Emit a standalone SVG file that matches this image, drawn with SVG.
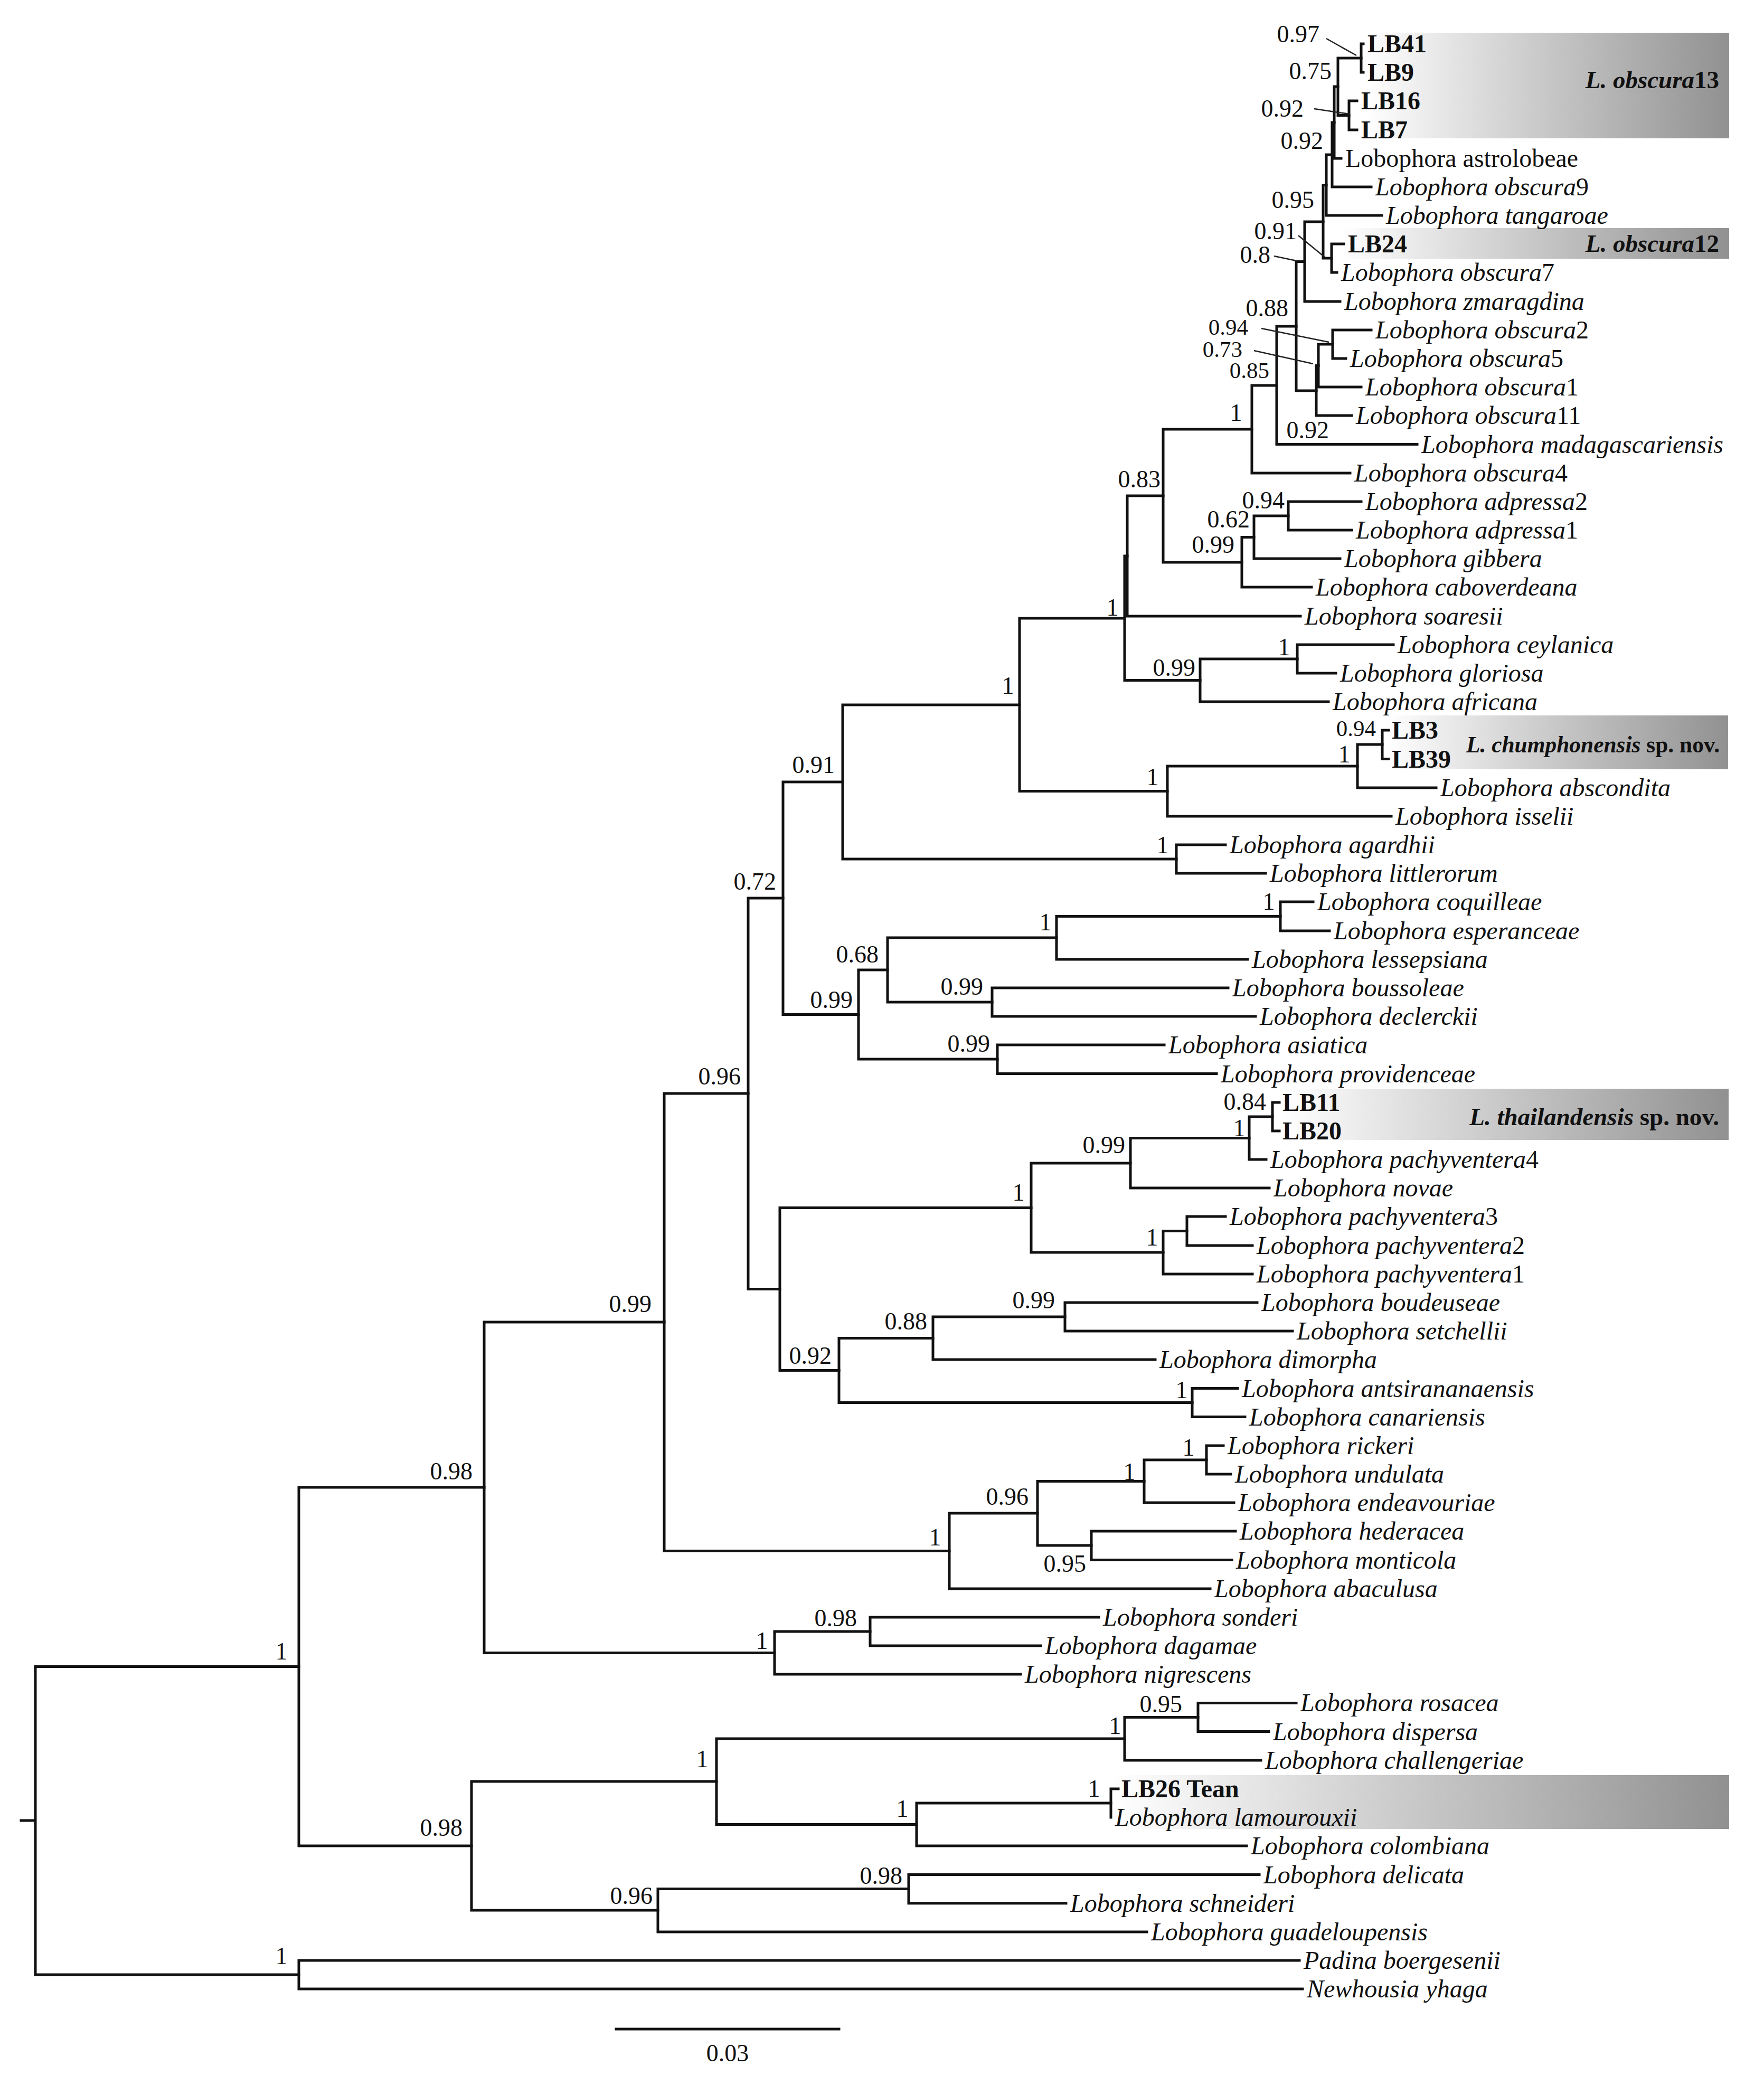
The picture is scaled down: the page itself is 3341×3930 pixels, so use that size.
<svg xmlns="http://www.w3.org/2000/svg" width="3341" height="3930" viewBox="0 0 3341 3930">
<defs>
<linearGradient id="hl" x1="0" y1="0" x2="1" y2="0">
<stop offset="0" stop-color="#ffffff"/>
<stop offset="0.4" stop-color="#d2d2d2"/>
<stop offset="1" stop-color="#919191"/>
</linearGradient>
<style>
text{font-family:"Liberation Serif","Times New Roman",serif;fill:#111}
.t{font-size:48px;font-style:italic}
.r{font-size:48px}
.b{font-size:48px;font-weight:bold}
.d{font-style:normal}
.s{font-size:46px;text-anchor:end}
.ss{font-size:43px;text-anchor:end}
.s1{font-size:46px;text-anchor:middle}
.h{font-size:47px;font-weight:bold;text-anchor:end}
.h2{font-size:45px;font-weight:bold}
.br{stroke:#111;stroke-width:5;fill:none;stroke-linecap:square}
.ld{stroke:#222;stroke-width:2.5;fill:none}
.box{fill:url(#hl)}
</style>
</defs>
<rect width="3341" height="3930" fill="#fff"/>
<g id="highlights">
<g id="hl-obscura13"><rect class="box" x="2585" y="62" width="690" height="200"/><text class="h" x="3256" y="167"><tspan font-style="italic">L. obscura</tspan>13</text></g>
<g id="hl-obscura12"><rect class="box" x="2540" y="432" width="735" height="58"/><text class="h" x="3256" y="477"><tspan font-style="italic">L. obscura</tspan>12</text></g>
<g id="hl-chumphonensis"><rect class="box" x="2625" y="1355" width="648" height="102"/><text class="h2" x="2777" y="1425" textLength="480" lengthAdjust="spacingAndGlyphs"><tspan font-style="italic">L. chumphonensis</tspan> sp. nov.</text></g>
<g id="hl-thailandensis"><rect class="box" x="2429" y="2062" width="845" height="97"/><text class="h" x="3256" y="2131"><tspan font-style="italic">L. thailandensis</tspan> sp. nov.</text></g>
<g id="hl-lamourouxii"><rect class="box" x="2110" y="3362" width="1165" height="102"/></g>
</g>
<g id="branches" class="br">
<path d="M2578,83V137M2578,83H2582M2578,137H2582"/>
<path d="M2555,191V246M2555,191H2570M2555,246H2570"/>
<path d="M2534,110V218.5M2534,110H2578M2534,218.5H2555"/>
<path d="M2527,164V300M2527,164H2534M2527,300H2540"/>
<path d="M2523,232V354M2523,232H2527M2523,354H2597"/>
<path d="M2512,293V408M2512,293H2523M2512,408H2617"/>
<path d="M2522,462V516M2522,462H2545M2522,516H2532"/>
<path d="M2506,350.5V489M2506,350.5H2512M2506,489H2522"/>
<path d="M2471,420V571M2471,420H2506M2471,571H2538"/>
<path d="M2524,625V679M2524,625H2597M2524,679H2549"/>
<path d="M2497,652V733M2497,652H2524M2497,733H2578"/>
<path d="M2493,692.5V787M2493,692.5H2497M2493,787H2560"/>
<path d="M2455,495.5V740M2455,495.5H2471M2455,740H2493"/>
<path d="M2418,618V841.5M2418,618H2455M2418,841.5H2684"/>
<path d="M2371,730V896M2371,730H2418M2371,896H2557"/>
<path d="M2440,950V1004M2440,950H2578M2440,1004H2560"/>
<path d="M2375,977V1058M2375,977H2440M2375,1058H2538"/>
<path d="M2352,1017.5V1112M2352,1017.5H2375M2352,1112H2484"/>
<path d="M2203,813V1065M2203,813H2371M2203,1065H2352"/>
<path d="M2135,939V1167M2135,939H2203M2135,1167H2463"/>
<path d="M2457,1221V1275M2457,1221H2639M2457,1275H2530"/>
<path d="M2273,1248V1329M2273,1248H2457M2273,1329H2516"/>
<path d="M2130,1053V1288.5M2130,1053H2135M2130,1288.5H2273"/>
<path d="M2618,1383V1437.5M2618,1383H2630M2618,1437.5H2630"/>
<path d="M2571,1410V1492M2571,1410H2618M2571,1492H2720"/>
<path d="M2211,1451V1546M2211,1451H2571M2211,1546H2635"/>
<path d="M1931,1171V1498.5M1931,1171H2130M1931,1498.5H2211"/>
<path d="M2228,1600V1654M2228,1600H2321M2228,1654H2397"/>
<path d="M1596,1335V1627M1596,1335H1931M1596,1627H2228"/>
<path d="M2425,1708V1763M2425,1708H2487M2425,1763H2518"/>
<path d="M2001,1735.5V1817M2001,1735.5H2425M2001,1817H2363"/>
<path d="M1879,1871V1925M1879,1871H2326M1879,1925H2378"/>
<path d="M1681,1776V1898M1681,1776H2001M1681,1898H1879"/>
<path d="M1889,1979V2033.5M1889,1979H2205M1889,2033.5H2304"/>
<path d="M1626,1837V2006M1626,1837H1681M1626,2006H1889"/>
<path d="M1483,1481V1921.5M1483,1481H1596M1483,1921.5H1626"/>
<path d="M2410,2088V2142M2410,2088H2423M2410,2142H2423"/>
<path d="M2366,2115V2196M2366,2115H2410M2366,2196H2398"/>
<path d="M2141,2155.5V2250M2141,2155.5H2366M2141,2250H2404"/>
<path d="M2248,2304V2359M2248,2304H2321M2248,2359H2372"/>
<path d="M2203,2331.5V2413M2203,2331.5H2248M2203,2413H2372"/>
<path d="M1953,2203V2372M1953,2203H2141M1953,2372H2203"/>
<path d="M2017,2467V2521M2017,2467H2381M2017,2521H2448"/>
<path d="M1767,2494V2575M1767,2494H2017M1767,2575H2188"/>
<path d="M2258,2629.5V2683.6M2258,2629.5H2344M2258,2683.6H2358"/>
<path d="M1589,2534.5V2656.5M1589,2534.5H1767M1589,2656.5H2258"/>
<path d="M1477,2287.5V2595.5M1477,2287.5H1953M1477,2595.5H1589"/>
<path d="M1417,1701V2441.5M1417,1701H1483M1417,2441.5H1477"/>
<path d="M2285,2738V2792M2285,2738H2317M2285,2792H2331"/>
<path d="M2167,2765V2846M2167,2765H2285M2167,2846H2337"/>
<path d="M2067,2900V2954.5M2067,2900H2340M2067,2954.5H2333"/>
<path d="M1965,2805.5V2927M1965,2805.5H2167M1965,2927H2067"/>
<path d="M1798,2866V3009M1798,2866H1965M1798,3009H2292"/>
<path d="M1258,2071V2937.5M1258,2071H1417M1258,2937.5H1798"/>
<path d="M1648,3063V3117M1648,3063H2081M1648,3117H1971"/>
<path d="M1467,3090V3171M1467,3090H1648M1467,3171H1933"/>
<path d="M917,2504V3130.5M917,2504H1258M917,3130.5H1467"/>
<path d="M2269,3225.5V3279.6M2269,3225.5H2455M2269,3279.6H2403"/>
<path d="M2130,3252.5V3334M2130,3252.5H2269M2130,3334H2388"/>
<path d="M2104,3388V3442M2104,3388H2118"/>
<path d="M1736,3415V3496M1736,3415H2104M1736,3496H2361"/>
<path d="M1357,3293V3455.5M1357,3293H2130M1357,3455.5H1736"/>
<path d="M1721,3550.5V3604.7M1721,3550.5H2385M1721,3604.7H2019"/>
<path d="M1246,3577.6V3659M1246,3577.6H1721M1246,3659H2172"/>
<path d="M893,3374V3618M893,3374H1357M893,3618H1246"/>
<path d="M566,2817V3496M566,2817H917M566,3496H893"/>
<path d="M566,3713V3767M566,3713H2461M566,3767H2467"/>
<path d="M67,3156.5V3740M67,3156.5H566M67,3740H566M40,3448H67"/>
</g>
<g id="leaders" class="ld">
<path d="M2512,73L2569,105"/>
<path d="M2489,206L2556,216"/>
<path d="M2459,446L2509,487"/>
<path d="M2413,485L2456,494"/>
<path d="M2389,622L2517,648"/>
<path d="M2375,664L2487,689"/>
</g>
<g id="tips">
<g id="tip-LB41"><text class="b" x="2590" y="99">LB41</text></g>
<g id="tip-LB9"><text class="b" x="2590" y="153">LB9</text></g>
<g id="tip-LB16"><text class="b" x="2578" y="207">LB16</text></g>
<g id="tip-LB7"><text class="b" x="2578" y="262">LB7</text></g>
<g id="tip-astrolobeae"><text class="r" x="2548" y="316">Lobophora astrolobeae</text></g>
<g id="tip-obscura9"><text class="t" x="2605" y="370">Lobophora obscura<tspan class="d">9</tspan></text></g>
<g id="tip-tangaroae"><text class="t" x="2625" y="424">Lobophora tangaroae</text></g>
<g id="tip-LB24"><text class="b" x="2553" y="478">LB24</text></g>
<g id="tip-obscura7"><text class="t" x="2540" y="532">Lobophora obscura<tspan class="d">7</tspan></text></g>
<g id="tip-zmaragdina"><text class="t" x="2546" y="587">Lobophora zmaragdina</text></g>
<g id="tip-obscura2"><text class="t" x="2605" y="641">Lobophora obscura<tspan class="d">2</tspan></text></g>
<g id="tip-obscura5"><text class="t" x="2557" y="695">Lobophora obscura<tspan class="d">5</tspan></text></g>
<g id="tip-obscura1"><text class="t" x="2586" y="749">Lobophora obscura<tspan class="d">1</tspan></text></g>
<g id="tip-obscura11"><text class="t" x="2568" y="803">Lobophora obscura<tspan class="d">11</tspan></text></g>
<g id="tip-madagascariensis"><text class="t" x="2692" y="858">Lobophora madagascariensis</text></g>
<g id="tip-obscura4"><text class="t" x="2565" y="912">Lobophora obscura<tspan class="d">4</tspan></text></g>
<g id="tip-adpressa2"><text class="t" x="2586" y="966">Lobophora adpressa<tspan class="d">2</tspan></text></g>
<g id="tip-adpressa1"><text class="t" x="2568" y="1020">Lobophora adpressa<tspan class="d">1</tspan></text></g>
<g id="tip-gibbera"><text class="t" x="2546" y="1074">Lobophora gibbera</text></g>
<g id="tip-caboverdeana"><text class="t" x="2492" y="1128">Lobophora caboverdeana</text></g>
<g id="tip-soaresii"><text class="t" x="2471" y="1183">Lobophora soaresii</text></g>
<g id="tip-ceylanica"><text class="t" x="2647" y="1237">Lobophora ceylanica</text></g>
<g id="tip-gloriosa"><text class="t" x="2538" y="1291">Lobophora gloriosa</text></g>
<g id="tip-africana"><text class="t" x="2524" y="1345">Lobophora africana</text></g>
<g id="tip-LB3"><text class="b" x="2636" y="1399">LB3</text></g>
<g id="tip-LB39"><text class="b" x="2636" y="1454">LB39</text></g>
<g id="tip-abscondita"><text class="t" x="2728" y="1508">Lobophora abscondita</text></g>
<g id="tip-isselii"><text class="t" x="2643" y="1562">Lobophora isselii</text></g>
<g id="tip-agardhii"><text class="t" x="2329" y="1616">Lobophora agardhii</text></g>
<g id="tip-littlerorum"><text class="t" x="2405" y="1670">Lobophora littlerorum</text></g>
<g id="tip-coquilleae"><text class="t" x="2495" y="1724">Lobophora coquilleae</text></g>
<g id="tip-esperanceae"><text class="t" x="2526" y="1779">Lobophora esperanceae</text></g>
<g id="tip-lessepsiana"><text class="t" x="2371" y="1833">Lobophora lessepsiana</text></g>
<g id="tip-boussoleae"><text class="t" x="2334" y="1887">Lobophora boussoleae</text></g>
<g id="tip-declerckii"><text class="t" x="2386" y="1941">Lobophora declerckii</text></g>
<g id="tip-asiatica"><text class="t" x="2213" y="1995">Lobophora asiatica</text></g>
<g id="tip-providenceae"><text class="t" x="2312" y="2050">Lobophora providenceae</text></g>
<g id="tip-LB11"><text class="b" x="2429" y="2104">LB11</text></g>
<g id="tip-LB20"><text class="b" x="2429" y="2158">LB20</text></g>
<g id="tip-pachyventera4"><text class="t" x="2406" y="2212">Lobophora pachyventera<tspan class="d">4</tspan></text></g>
<g id="tip-novae"><text class="t" x="2412" y="2266">Lobophora novae</text></g>
<g id="tip-pachyventera3"><text class="t" x="2329" y="2320">Lobophora pachyventera<tspan class="d">3</tspan></text></g>
<g id="tip-pachyventera2"><text class="t" x="2380" y="2375">Lobophora pachyventera<tspan class="d">2</tspan></text></g>
<g id="tip-pachyventera1"><text class="t" x="2380" y="2429">Lobophora pachyventera<tspan class="d">1</tspan></text></g>
<g id="tip-boudeuseae"><text class="t" x="2389" y="2483">Lobophora boudeuseae</text></g>
<g id="tip-setchellii"><text class="t" x="2456" y="2537">Lobophora setchellii</text></g>
<g id="tip-dimorpha"><text class="t" x="2196" y="2591">Lobophora dimorpha</text></g>
<g id="tip-antsirananaensis"><text class="t" x="2352" y="2646">Lobophora antsirananaensis</text></g>
<g id="tip-canariensis"><text class="t" x="2366" y="2700">Lobophora canariensis</text></g>
<g id="tip-rickeri"><text class="t" x="2325" y="2754">Lobophora rickeri</text></g>
<g id="tip-undulata"><text class="t" x="2339" y="2808">Lobophora undulata</text></g>
<g id="tip-endeavouriae"><text class="t" x="2345" y="2862">Lobophora endeavouriae</text></g>
<g id="tip-hederacea"><text class="t" x="2348" y="2916">Lobophora hederacea</text></g>
<g id="tip-monticola"><text class="t" x="2341" y="2971">Lobophora monticola</text></g>
<g id="tip-abaculusa"><text class="t" x="2300" y="3025">Lobophora abaculusa</text></g>
<g id="tip-sonderi"><text class="t" x="2089" y="3079">Lobophora sonderi</text></g>
<g id="tip-dagamae"><text class="t" x="1979" y="3133">Lobophora dagamae</text></g>
<g id="tip-nigrescens"><text class="t" x="1941" y="3187">Lobophora nigrescens</text></g>
<g id="tip-rosacea"><text class="t" x="2463" y="3241">Lobophora rosacea</text></g>
<g id="tip-dispersa"><text class="t" x="2411" y="3296">Lobophora dispersa</text></g>
<g id="tip-challengeriae"><text class="t" x="2396" y="3350">Lobophora challengeriae</text></g>
<g id="tip-LB26"><text class="b" x="2124" y="3404">LB26 Tean</text></g>
<g id="tip-lamourouxii"><text class="t" x="2112" y="3458">Lobophora lamourouxii</text></g>
<g id="tip-colombiana"><text class="t" x="2369" y="3512">Lobophora colombiana</text></g>
<g id="tip-delicata"><text class="t" x="2393" y="3567">Lobophora delicata</text></g>
<g id="tip-schneideri"><text class="t" x="2027" y="3621">Lobophora schneideri</text></g>
<g id="tip-guadeloupensis"><text class="t" x="2180" y="3675">Lobophora guadeloupensis</text></g>
<g id="tip-padina"><text class="t" x="2469" y="3729">Padina boergesenii</text></g>
<g id="tip-newhousia"><text class="t" x="2475" y="3783">Newhousia yhaga</text></g>
</g>
<g id="support">
<text class="s" x="2499" y="80">0.97</text>
<text class="s" x="2522" y="150">0.75</text>
<text class="s" x="2469" y="221">0.92</text>
<text class="s" x="2506" y="282">0.92</text>
<text class="s" x="2489" y="394">0.95</text>
<text class="s" x="2456" y="453">0.91</text>
<text class="s" x="2406" y="498">0.8</text>
<text class="s" x="2440" y="599">0.88</text>
<text class="ss" x="2364" y="634">0.94</text>
<text class="ss" x="2353" y="676">0.73</text>
<text class="ss" x="2404" y="716">0.85</text>
<text class="s" x="2517" y="830">0.92</text>
<text class="s1" x="2341" y="797">1</text>
<text class="s" x="2433" y="963">0.94</text>
<text class="s" x="2367" y="999">0.62</text>
<text class="s" x="2338" y="1047">0.99</text>
<text class="s" x="2198" y="923">0.83</text>
<text class="s1" x="2107" y="1166">1</text>
<text class="s1" x="2432" y="1241">1</text>
<text class="s" x="2264" y="1280">0.99</text>
<text class="s1" x="1909" y="1314">1</text>
<text class="s1" x="2183" y="1487">1</text>
<text class="s1" x="2546" y="1444">1</text>
<text class="ss" x="2606" y="1394">0.94</text>
<text class="s1" x="2202" y="1616">1</text>
<text class="s" x="1581" y="1464">0.91</text>
<text class="s" x="1470" y="1685">0.72</text>
<text class="s" x="1615" y="1909">0.99</text>
<text class="s" x="1664" y="1823">0.68</text>
<text class="s1" x="1980" y="1762">1</text>
<text class="s1" x="2403" y="1723">1</text>
<text class="s" x="1862" y="1884">0.99</text>
<text class="s" x="1875" y="1992">0.99</text>
<text class="s" x="1403" y="2054">0.96</text>
<text class="s" x="1234" y="2485">0.99</text>
<text class="s" x="2398" y="2102">0.84</text>
<text class="s1" x="2347" y="2152">1</text>
<text class="s" x="2131" y="2184">0.99</text>
<text class="s1" x="1929" y="2274">1</text>
<text class="s1" x="2182" y="2359">1</text>
<text class="s" x="1998" y="2478">0.99</text>
<text class="s" x="1756" y="2518">0.88</text>
<text class="s" x="1575" y="2583">0.92</text>
<text class="s1" x="2238" y="2648">1</text>
<text class="s1" x="2251" y="2757">1</text>
<text class="s1" x="2139" y="2803">1</text>
<text class="s" x="1948" y="2850">0.96</text>
<text class="s" x="2057" y="2977">0.95</text>
<text class="s1" x="1771" y="2927">1</text>
<text class="s" x="1623" y="3080">0.98</text>
<text class="s1" x="1443" y="3123">1</text>
<text class="s" x="895" y="2802">0.98</text>
<text class="s1" x="533" y="3143">1</text>
<text class="s" x="876" y="3477">0.98</text>
<text class="s1" x="1330" y="3347">1</text>
<text class="s" x="1236" y="3606">0.96</text>
<text class="s1" x="533" y="3720">1</text>
<text class="s1" x="2112" y="3284">1</text>
<text class="s" x="2239" y="3243">0.95</text>
<text class="s1" x="1709" y="3441">1</text>
<text class="s1" x="2072" y="3403">1</text>
<text class="s" x="1709" y="3568">0.98</text>
</g>
<g id="scalebar">
<path class="br" d="M1167,3843H1589"/>
<text class="s1" x="1378" y="3904">0.03</text>
</g>
</svg>
